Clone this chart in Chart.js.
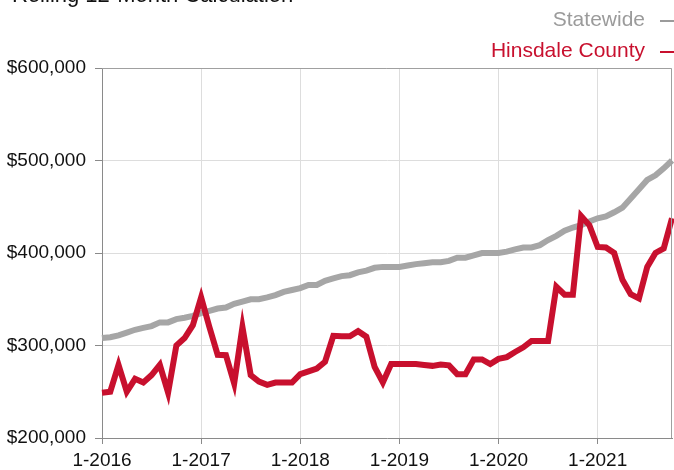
<!DOCTYPE html>
<html>
<head>
<meta charset="utf-8">
<script src="https://cdn.jsdelivr.net/npm/chart.js@4.4.0/dist/chart.umd.min.js"></script>
<style>
    html, body { margin: 0; padding: 0; background: #ffffff; }
</style>
</head>
<body>
<canvas id="grafico" width="674" height="470"></canvas>
<script>
var years = [2016, 2017, 2018, 2019, 2020, 2021];
var lastMonth = 10; // data runs to 10-2021

var statewide = [
    308000, 309000, 311000, 314000, 317000, 319000, 321000, 325000, 325000, 328500, 330000, 332000,
    335000, 337500, 340000, 341000, 345000, 347500, 350000, 350000, 352000, 354500, 358000, 360000,
    362000, 365500, 365500, 370000, 372500, 375000, 376000, 379000, 381000, 384000, 385000, 385000,
    385000, 386500, 388000, 389000, 390000, 390000, 391500, 395000, 395000, 397500, 400000, 400000,
    400000, 401500, 404000, 406000, 406000, 408500, 414000, 418500, 424000, 427500, 430000, 434000,
    437500, 439500, 444000, 449000, 459000, 469000, 479000, 484000, 491500, 500000
];

var hinsdale = [
    249000, 250000, 279000, 250000, 264000, 260000, 268000, 279000, 249000, 300000, 308000, 322000,
    352000, 320000, 290000, 289500, 259000, 320000, 268000, 261000, 257500, 260000, 260000, 260000,
    269000, 272000, 275000, 282500, 310500, 310000, 310000, 315500, 309500, 277000, 260000, 280000,
    280000, 280000, 280000, 279000, 278000, 279500, 278500, 269000, 269000, 285000, 285000, 280000,
    285500, 287500, 293000, 298000, 305000, 305000, 305000, 363500, 355000, 355000, 440000, 430000,
    406500, 406000, 400000, 371000, 355500, 351000, 385000, 400000, 405000, 437500
];

var yTicks = [200000, 300000, 400000, 500000, 600000];
var title = 'Rolling 12-Month Calculation';

var fuente = '"Liberation Sans", Arial, Helvetica, sans-serif';

function monthLabels() {
    var labels = [];
    for (var i = 0; i < years.length; i++) {
        for (var m = 1; m <= 12; m++) {
            if (years[i] === years[years.length - 1] && m > lastMonth) break;
            labels.push(m + '-' + years[i]);
        }
    }
    return labels;
}

// title (cut off at the top), legend text with dash after it, and the box border
var decoracion = {
    id: 'decoracion',
    afterDraw: function (chart) {
        var ctx = chart.ctx;
        var a = chart.chartArea;
        ctx.save();

        ctx.strokeStyle = '#a0a0a0';
        ctx.lineWidth = 1;
        ctx.beginPath();
        ctx.moveTo(a.left, a.top + 0.5);
        ctx.lineTo(a.right - 0.5, a.top + 0.5);
        ctx.lineTo(a.right - 0.5, a.bottom);
        ctx.stroke();

        ctx.fillStyle = '#111111';
        ctx.font = '22px ' + fuente;
        ctx.textAlign = 'left';
        ctx.textBaseline = 'alphabetic';
        ctx.fillText(title, 12, 2);

        var sets = chart.data.datasets;
        var ys = [20, 51];
        ctx.font = '21px ' + fuente;
        ctx.textAlign = 'right';
        ctx.textBaseline = 'middle';
        for (var i = 0; i < sets.length; i++) {
            ctx.fillStyle = sets[i].legendColor;
            ctx.fillText(sets[i].label, 645, ys[i]);
            ctx.fillRect(660, ys[i], 14, 2);
        }
        ctx.restore();
    }
};

function graficoLineas() {
    var ctx = document.getElementById('grafico').getContext('2d');
    new Chart(ctx, {
        type: 'line',
        data: {
            labels: monthLabels(),
            datasets: [{
                label: 'Statewide',
                data: statewide,
                borderColor: '#a6a6a6',
                legendColor: '#9b9b9b',
                borderWidth: 6,
                pointRadius: 0,
                tension: 0,
                order: 1
            }, {
                label: 'Hinsdale County',
                data: hinsdale,
                borderColor: '#c8102e',
                legendColor: '#c8102e',
                borderWidth: 6,
                pointRadius: 0,
                tension: 0,
                order: 0
            }]
        },
        options: {
            responsive: false,
            animation: false,
            devicePixelRatio: 1,
            layout: { padding: { top: 68, right: 2, left: 0, bottom: 0 } },
            plugins: {
                legend: { display: false },
                title: { display: false },
                tooltip: { enabled: false }
            },
            scales: {
                x: {
                    offset: false,
                    grid: { color: '#dddddd', tickColor: '#8a8a8a', tickLength: 6 },
                    border: { color: '#8a8a8a' },
                    ticks: {
                        autoSkip: false,
                        maxRotation: 0,
                        padding: 5,
                        color: '#111111',
                        font: { family: fuente, size: 19 },
                        callback: function (val, index) {
                            return index % 12 === 0 ? this.getLabelForValue(val) : null;
                        }
                    },
                    afterFit: function (scale) { scale.height = 32; }
                },
                y: {
                    min: yTicks[0],
                    max: yTicks[yTicks.length - 1],
                    grid: { color: '#dddddd', tickColor: '#8a8a8a', tickLength: 7 },
                    border: { color: '#8a8a8a' },
                    ticks: {
                        stepSize: yTicks[1] - yTicks[0],
                        padding: 9,
                        color: '#111111',
                        font: { family: fuente, size: 19 },
                        callback: function (v) { return '$' + v.toLocaleString('en-US'); }
                    },
                    afterFit: function (scale) { scale.width = 102; }
                }
            }
        },
        plugins: [decoracion]
    });
}

graficoLineas();
</script>
</body>
</html>
